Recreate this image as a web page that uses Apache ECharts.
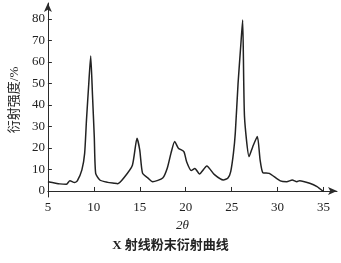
<!DOCTYPE html>
<html>
<head>
<meta charset="utf-8">
<script src="https://cdn.jsdelivr.net/npm/echarts@6/dist/echarts.min.js"></script>
<style>html,body{margin:0;padding:0;background:#fff}#c{width:341px;height:263px}</style>
</head>
<body>
<div id="c"></div>
<script>
var twoTheta = [5.0, 6.3, 7.0, 7.4, 7.9, 8.2, 8.7, 9.0, 9.2, 9.45, 9.66, 9.85, 10.05, 10.2, 10.65, 11.5, 12.2, 12.6, 13.3, 14.2, 14.7, 15.0, 15.3, 15.9, 16.4, 17.5, 18.0, 18.4, 18.8, 19.2, 19.8, 20.1, 20.6, 21.0, 21.5, 22.3, 23.1, 24.1, 24.6, 24.9, 25.2, 25.4, 25.7, 26.0, 26.2, 26.4, 26.9, 27.3, 27.8, 28.1, 28.4, 29.1, 30.3, 31.0, 31.6, 32.1, 32.4, 33.5, 34.3, 35.0];
var intensity = [4.3, 3.3, 3.1, 4.8, 3.9, 4.7, 9.8, 17.5, 33, 50, 62.8, 45, 25, 8.2, 5.1, 4.0, 3.6, 3.4, 6.3, 12, 24.5, 19, 8.3, 6, 4.3, 6, 10.7, 17.6, 23, 19.9, 18.3, 13.6, 9.5, 10.5, 7.9, 11.6, 7.7, 5.1, 6.0, 9.0, 17.7, 27, 50, 68, 79.5, 34.6, 16, 20.6, 25.3, 14.4, 8.5, 8.2, 4.7, 4.3, 5.1, 4.3, 4.8, 3.6, 2.0, -0.3];
var xTicks = [5, 10, 15, 20, 25, 30, 35];
var yTicks = [0, 10, 20, 30, 40, 50, 60, 70, 80];
var titleText = 'X 射线粉末衍射曲线';
var xName = '2θ';
var yName = '衍射强度/%';

var pts = twoTheta.map(function (x, i) { return [x, intensity[i]]; });
var chart = echarts.init(document.getElementById('c'), null, {renderer: 'canvas'});
var serif = 'Liberation Serif, DejaVu Serif, Noto Sans CJK SC, serif';
var axisLine = {show: true, lineStyle: {color: '#2a2a2a', width: 1}, symbol: ['none', 'arrow'], symbolSize: [6, 9]};
chart.setOption({
  animation: false,
  backgroundColor: '#fff',
  title: {
    text: titleText, left: 'center', top: 234,
    textStyle: {fontFamily: serif, fontSize: 13, fontWeight: 'bold', color: '#222'}
  },
  grid: {left: 38, right: 4, top: 3, bottom: 66, containLabel: false},
  xAxis: {
    type: 'value', min: 5, max: 36.47,
    name: xName, nameLocation: 'middle', nameGap: 20,
    nameTextStyle: {fontFamily: serif, fontSize: 13, fontStyle: 'italic', color: '#222', padding: [0, 20, 0, 0]},
    axisLine: axisLine,
    axisTick: {show: true, inside: true, length: 4, customValues: xTicks, lineStyle: {color: '#2a2a2a'}},
    axisLabel: {customValues: xTicks, margin: 4, fontFamily: serif, fontSize: 13, color: '#222'},
    splitLine: {show: false}
  },
  yAxis: {
    type: 'value', min: -2.8, max: 87.4,
    name: yName, nameLocation: 'middle', nameGap: 26, nameRotate: 90,
    nameTextStyle: {fontFamily: serif, fontSize: 13, color: '#222'},
    axisLine: axisLine,
    axisTick: {show: true, inside: true, length: 4, customValues: yTicks, lineStyle: {color: '#2a2a2a'}},
    axisLabel: {customValues: yTicks, margin: 3, fontFamily: serif, fontSize: 13, color: '#222'},
    splitLine: {show: false}
  },
  series: [{
    type: 'line', data: pts, showSymbol: false, smooth: 0.2,
    lineStyle: {color: '#222', width: 1.5}
  }]
});
</script>
</body>
</html>
